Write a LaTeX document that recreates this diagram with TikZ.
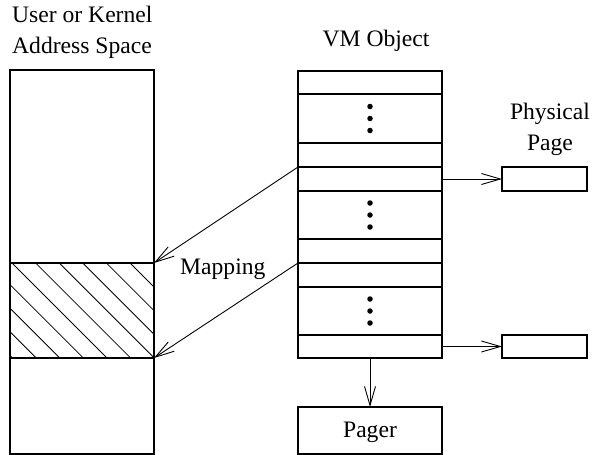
\documentclass[tikz,border=0pt]{standalone}
\usepackage{fontspec}
\setmainfont{Liberation Serif}
\usetikzlibrary{arrows.meta}
\begin{document}
\begin{tikzpicture}[x=1pt,y=-1pt,
  box/.style={draw, line width=1.1pt, inner sep=0pt, outer sep=0pt, anchor=north west},
  lbl/.style={inner sep=0pt, font=\fontsize{23.6}{29}\selectfont},
  link/.style={line width=0.9pt, -{Straight Barb[length=19pt,width=11pt,line width=0.9pt]}},
  dotmark/.style={circle, fill, inner sep=0pt, minimum size=5.5pt},
  hatch/.style={line width=0.8pt}]
\useasboundingbox (0,0) rectangle (592,455);

% address space with the mapped region
\node[box, minimum width=144pt, minimum height=384pt] (space) at (10,70) {};
\node[box, minimum width=144pt, minimum height=95pt] (region) at (10,263) {};
\begin{scope}
  \clip (region.south west) rectangle (region.north east);
  \foreach \k in {-4,...,5}
    \draw[hatch] ({12+23.6*\k-20},243) -- ++(140,140);
\end{scope}
\node[box, minimum width=144pt, minimum height=95pt] (regionframe) at (10,263) {};

% VM object rows: index/top/height
\foreach \i/\t/\h in {1/71/23, 2/94/49, 3/143/24, 4/167/24, 5/191/48,
                      6/239/24, 7/263/24, 8/287/48, 9/335/23}
  \node[box, minimum width=144pt, minimum height=\h pt] (r\i) at (298,\t) {};

% ellipsis dots in the elided rows
\foreach \r in {2,5,8}
  \foreach \d/\n in {-12/a,0/b,12/c}
    \node[dotmark] (dot\r\n) at ([yshift=\d pt]r\r.center) {};

% physical pages and pager
\node[box, minimum width=85pt, minimum height=24pt] (pp1) at (502,167) {};
\node[box, minimum width=85pt, minimum height=23pt] (pp2) at (502,335) {};
\node[box, minimum width=144pt, minimum height=47pt] (pager) at (298,407) {};

% connectors
\draw[link] (r4.east) -- (pp1.west);
\draw[link] (r9.east) -- (pp2.west);
\draw[link] (r9.south) -- (pager.north);
\draw[link] (r4.north west) -- (region.north east);
\draw[link] (r7.north west) -- (region.south east);

% labels
\node[lbl, anchor=base west] (t1) at (12,23) {User or Kernel};
\node[lbl, anchor=base west] (t2) at (12,53) {Address Space};
\node[lbl, anchor=base] (t3) at (376,46) {VM Object};
\node[lbl, anchor=base] (t4) at (550,119) {Physical};
\node[lbl, anchor=base] (t5) at (550,150) {Page};
\node[lbl, anchor=base west] (t6) at (180,274) {Mapping};
\node[lbl, anchor=base] (t7) at (370,437) {Pager};
\end{tikzpicture}
\end{document}
